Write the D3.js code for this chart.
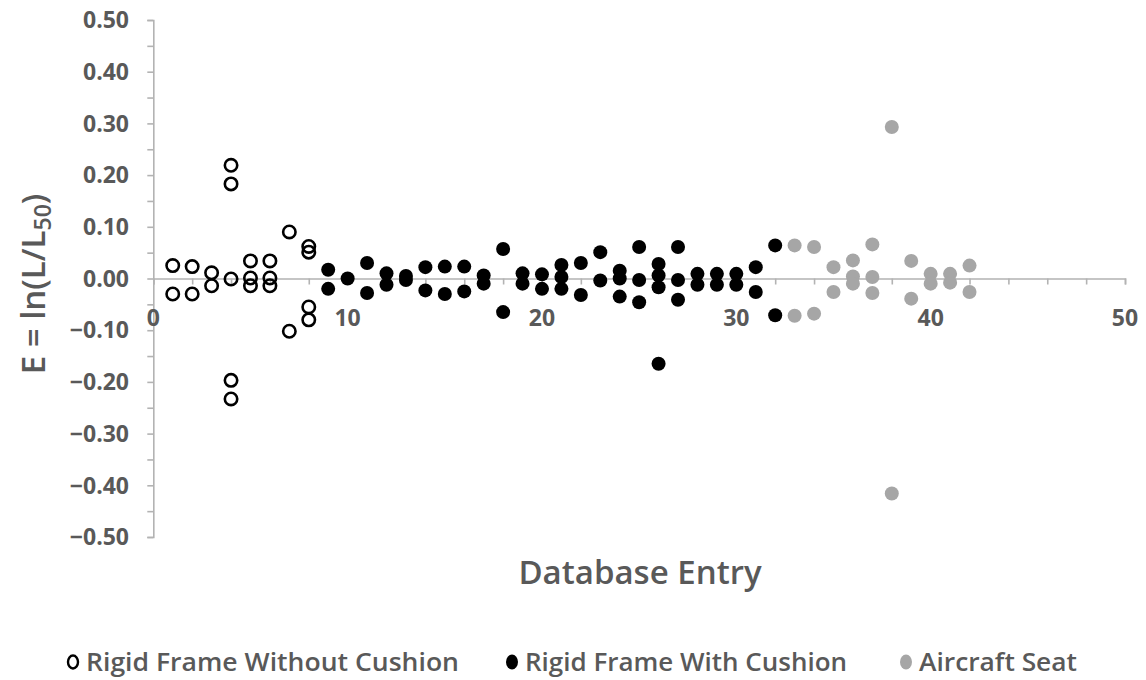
<!DOCTYPE html>
<html>
<head>
<meta charset="utf-8">
<script src="https://cdn.jsdelivr.net/npm/d3@7"></script>
<style>
  html, body { margin: 0; padding: 0; background: #fff; }
  svg { display: block; }
  text { font-family: "Open Sans", "Noto Sans", sans-serif; fill: #595959; }
</style>
</head>
<body>
<svg id="chart" width="1146" height="680"></svg>
<script>
// Rigid frame without cushion (open markers)
const noCushionEntry = [1,1,2,2,3,3,4,4,4,4,4,5,5,5,6,6,6,7,7,8,8,8,8];
const noCushionE = [0.025,-0.030,0.023,-0.030,0.011,-0.014,0.219,0.183,-0.001,-0.197,-0.233,
                    0.034,0.001,-0.014,0.034,0.001,-0.014,0.090,-0.102,0.062,0.051,-0.055,-0.080];

// Rigid frame with cushion (filled black markers)
const cushionEntry = [9,9,10,11,11,12,12,13,13,14,14,15,15,16,16,17,17,18,18,19,19,20,20,
                      21,21,21,22,22,23,23,24,24,24,25,25,25,26,26,26,26,27,27,27,
                      28,28,29,29,30,30,31,31,32,32];
const cushionE = [0.017,-0.020,0.000,0.030,-0.028,0.010,-0.012,0.005,-0.003,0.022,-0.023,0.023,-0.030,
                  0.023,-0.025,0.006,-0.010,0.057,-0.065,0.010,-0.010,0.008,-0.020,
                  0.026,0.003,-0.020,0.030,-0.032,0.051,-0.004,0.015,0.000,-0.035,0.061,-0.003,-0.046,
                  0.028,0.006,-0.017,-0.165,0.061,-0.003,-0.041,
                  0.009,-0.012,0.009,-0.012,0.009,-0.012,0.022,-0.026,0.064,-0.071];

// Aircraft seats (grey markers)
const seatEntry = [33,33,34,34,35,35,36,36,36,37,37,37,38,38,39,39,40,40,41,41,42,42];
const seatE = [0.064,-0.072,0.061,-0.068,0.022,-0.026,0.035,0.004,-0.010,0.066,0.003,-0.028,
               0.293,-0.416,0.034,-0.039,0.009,-0.010,0.009,-0.008,0.025,-0.026];

const xTickValues = [0,10,20,30,40,50];
const yTickValues = [-0.5,-0.4,-0.3,-0.2,-0.1,0,0.1,0.2,0.3,0.4,0.5];
const legendLabels = ["Rigid Frame Without Cushion","Rigid Frame With Cushion","Aircraft Seat"];

const svg = d3.select("#chart");
const axisColor = "#b3b3b3";

const x = d3.scaleLinear().domain([0, 50]).range([153.3, 1125]);
const y = d3.scaleLinear().domain([-0.5, 0.5]).range([537, 20]);

// Y axis: major ticks every 0.1, minor ticks every 0.05
const yAxisG = svg.append("g").attr("transform", `translate(${x(0)},0)`);
yAxisG.call(d3.axisLeft(y).tickValues(d3.range(-0.5, 0.5001, 0.05)).tickSize(6).tickFormat(""));
yAxisG.select(".domain").attr("stroke", axisColor).attr("stroke-width", 1.6);
yAxisG.selectAll(".tick line").attr("stroke", axisColor).attr("stroke-width", 1.6);

svg.append("g").selectAll("text").data(yTickValues).join("text")
  .attr("x", 129).attr("y", d => y(d)).attr("dy", "0.36em")
  .attr("text-anchor", "end")
  .style("font-size", "23px").style("font-weight", 700)
  .text(d => d3.format(".2f")(d));

// X axis drawn at E = 0, minor ticks every 2 entries
const xAxisG = svg.append("g").attr("transform", `translate(0,${y(0)})`);
xAxisG.call(d3.axisBottom(x).tickValues(d3.range(0, 50.001, 2)).tickSize(6).tickSizeOuter(6).tickFormat(""));
xAxisG.select(".domain").attr("stroke", axisColor).attr("stroke-width", 1.6);
xAxisG.selectAll(".tick line").attr("stroke", axisColor).attr("stroke-width", 1.6);

svg.append("g").selectAll("text").data(xTickValues).join("text")
  .attr("x", d => x(d)).attr("y", 318).attr("dy", "0.36em")
  .attr("text-anchor", "middle")
  .style("font-size", "23px").style("font-weight", 700)
  .text(d => d);

// Axis titles
svg.append("text")
  .attr("x", 640).attr("y", 572).attr("dy", "0.36em")
  .attr("text-anchor", "middle")
  .style("font-size", "33px").style("font-weight", 600)
  .text("Database Entry");

const yTitle = svg.append("text")
  .attr("transform", `translate(33,284) rotate(-90)`)
  .attr("dy", "0.36em")
  .attr("text-anchor", "middle")
  .style("font-size", "33px").style("font-weight", 600);
yTitle.append("tspan").text("E = ln(L/L");
yTitle.append("tspan").attr("dy", "0.25em").style("font-size", "23px").text("50");
yTitle.append("tspan").attr("dy", "-0.18em").text(")");

// Data points
const pts = (xs, ys) => xs.map((d, i) => ({ entry: d, e: ys[i] }));

svg.append("g").selectAll("circle").data(pts(seatEntry, seatE)).join("circle")
  .attr("cx", d => x(d.entry)).attr("cy", d => y(d.e)).attr("r", 7)
  .attr("fill", "#a6a6a6");

svg.append("g").selectAll("circle").data(pts(cushionEntry, cushionE)).join("circle")
  .attr("cx", d => x(d.entry)).attr("cy", d => y(d.e)).attr("r", 7)
  .attr("fill", "#000");

svg.append("g").selectAll("circle").data(pts(noCushionEntry, noCushionE)).join("circle")
  .attr("cx", d => x(d.entry)).attr("cy", d => y(d.e)).attr("r", 6.2)
  .attr("fill", "none").attr("stroke", "#000").attr("stroke-width", 2.6);

// Legend
const legend = svg.append("g");
const legendX = [73, 512, 906];
const legendW = [373, 322, 158];
legendLabels.forEach((lab, i) => {
  const g = legend.append("g").attr("transform", `translate(${legendX[i]},662)`);
  if (i === 0) {
    g.append("ellipse").attr("rx", 5).attr("ry", 6.5).attr("fill", "none").attr("stroke", "#000").attr("stroke-width", 2.4);
  } else {
    g.append("ellipse").attr("rx", 6).attr("ry", 7.5).attr("fill", i === 1 ? "#000" : "#a6a6a6");
  }
  g.append("text").attr("x", 13).attr("dy", "0.36em")
    .attr("textLength", legendW[i]).attr("lengthAdjust", "spacingAndGlyphs")
    .style("font-size", "25px").style("font-weight", 600)
    .text(lab);
});
</script>
</body>
</html>
